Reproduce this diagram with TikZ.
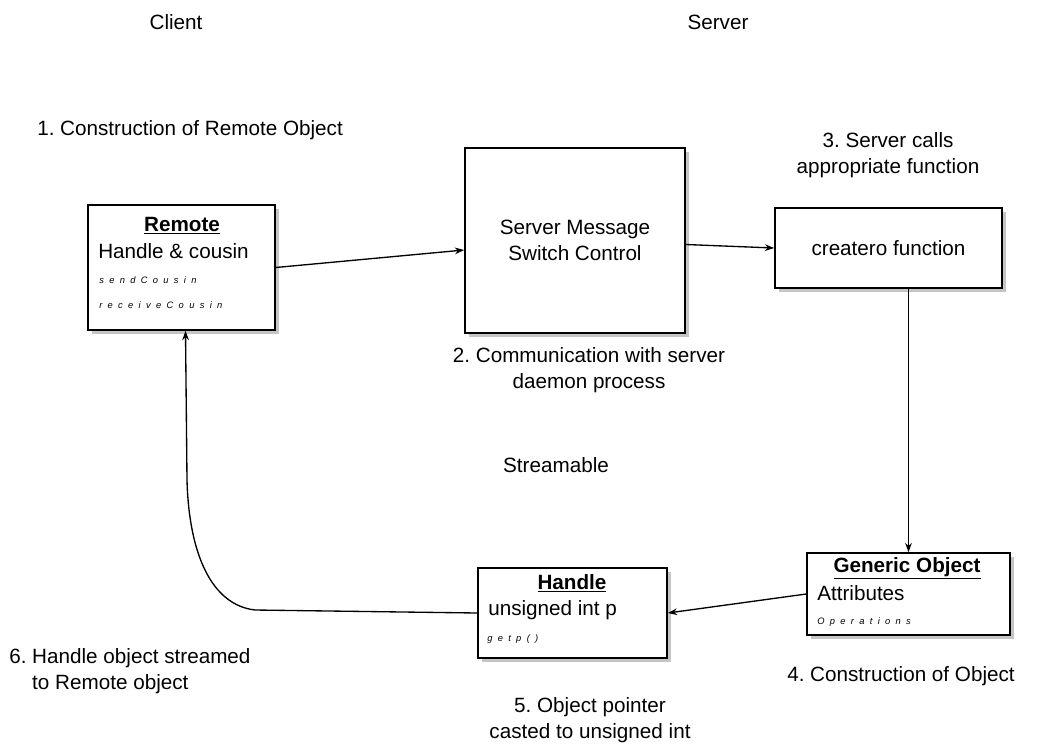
\documentclass[tikz,border=0pt]{standalone}
\usepackage{fontspec}
\setmainfont{Liberation Sans}
\usetikzlibrary{shadows,calc,arrows.meta}
\frenchspacing

% letter-spaced operation names
\newcommand{\spaced}[1]{\spacedaux#1\relax}
\def\spacedaux#1{\ifx#1\relax\else#1\hspace{4pt}\expandafter\spacedaux\fi}
\newcommand{\opsfont}{\fontsize{7}{8}\selectfont\itshape}

\begin{document}
\begin{tikzpicture}[x=0.75pt,y=-0.75pt,
    every node/.style={inner sep=0.75pt},
    font=\fontsize{15.5}{19.5}\selectfont,
    classbox/.style={draw, line width=1.2pt, fill=white,
      drop shadow={shadow xshift=3pt, shadow yshift=-3pt, fill=black!45}},
    flow/.style={-{Stealth[length=7pt,width=5pt]}, line width=1pt}]
        \useasboundingbox (0,0) rectangle (1057,744);

        % Boxes
        \node [classbox, minimum width=140.25pt, minimum height=93.75pt] (remote) at (181.5,267.5) {};
        \node [classbox, minimum width=165pt, minimum height=138.75pt, align=center] (server) at (575,240.5) {Server Message\\Switch Control};
        \node [classbox, minimum width=170.25pt, minimum height=60pt] (createro) at (888.5,248) {createro function};
        \node [classbox, minimum width=141.75pt, minimum height=67.5pt] (handle) at (572.5,613) {};
        \node [classbox, minimum width=152.25pt, minimum height=61.5pt] (generic) at (908.5,594) {};

        % Box contents
        \node (remotetitle) at (182,226) {\textbf{\underline{Remote}}};
        \node [anchor=west] (remoteattr) at (97,251) {Handle \& cousin};
        \node [anchor=west] (sendop) at (98,280) {\opsfont\spaced{sendCousin}};
        \node [anchor=west] (receiveop) at (98,305) {\opsfont\spaced{receiveCousin}};
        \node (handletitle) at (572,583) {\textbf{\underline{Handle}}};
        \node [anchor=west] (handleattr) at (487,610) {unsigned int p};
        \node [anchor=west] (getpop) at (486,639) {\opsfont\spaced{getp()}};
        \node (generictitle) at (907,568) {\textbf{\underline{Generic Object}}};
        \node [anchor=west] (genericattr) at (816,593) {Attributes};
        \node [anchor=west] (genericop) at (816,622) {\opsfont\spaced{Operations}};

        % Labels
        \node (client) at (176,22) {Client};
        \node (servertitle) at (718,22) {Server};
        \node [anchor=west] (step1) at (36,130) {1. Construction of Remote Object};
        \node [align=center] (step3) at (888,155) {3. Server calls\\appropriate function};
        \node [align=center] (step2) at (589,370) {2. Communication with server\\daemon process};
        \node (streamable) at (556,465) {Streamable};
        \node [anchor=west, align=left] (step6) at (8,671.5) {6. Handle object streamed\\\hphantom{6. }to Remote object};
        \node (step4) at (901,676) {4. Construction of Object};
        \node [align=center] (step5) at (590,720) {5. Object pointer\\casted to unsigned int};

        % Connectors
        \coordinate (bendlow) at (255,610);
        \coordinate (bendup) at (187,480);
        \draw [flow] (remote.east) -- ($(server.west)+(0,9.5)$);
        \draw [flow] ($(server.east)+(0,4)$) -- (createro.west);
        \draw [flow] (createro.south -| generic.north) -- (generic.north);
        \draw [flow] (generic.west) -- (handle.east);
        \draw [flow] (handle.west) -- (bendlow) .. controls (212,605) and (189,555) .. (bendup) -- ($(remote.south)+(4,0)$);

\end{tikzpicture}
\end{document}
